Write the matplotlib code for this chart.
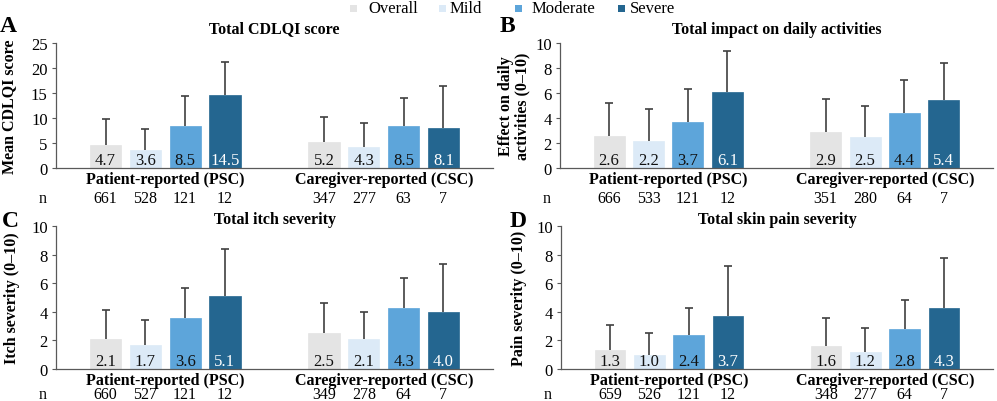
import matplotlib
matplotlib.use("Agg")
import matplotlib.pyplot as plt
import numpy as np

plt.rcParams['font.family'] = ['Liberation Serif', 'DejaVu Serif']
plt.rcParams['font.size'] = 12

groups = ["Patient-reported (PSC)", "Caregiver-reported (CSC)"]
severities = ["Overall", "Mild", "Moderate", "Severe"]
colors = ["#E4E4E4", "#DCEAF7", "#5DA5DA", "#246690"]
label_colors = ["#111111", "#111111", "#111111", "#FFFFFF"]

titles = ["Total CDLQI score", "Total impact on daily activities",
          "Total itch severity", "Total skin pain severity"]
ylabels = ["Mean CDLQI score", "Effect on daily\nactivities (0\u201310)",
           "Itch severity (0\u201310)", "Pain severity (0\u201310)"]
letters = ["A", "B", "C", "D"]

# means [PSC, CSC] by severity
mean_a = [[4.7, 3.6, 8.5, 14.5], [5.2, 4.3, 8.5, 8.1]]
sd_a = [[5.2, 4.2, 5.8, 6.7], [5.1, 4.7, 5.4, 8.2]]
n_a = [[661, 528, 121, 12], [347, 277, 63, 7]]

mean_b = [[2.6, 2.2, 3.7, 6.1], [2.9, 2.5, 4.4, 5.4]]
sd_b = [[2.6, 2.5, 2.65, 3.2], [2.65, 2.5, 2.6, 3.0]]
n_b = [[666, 533, 121, 12], [351, 280, 64, 7]]

mean_c = [[2.1, 1.7, 3.6, 5.1], [2.5, 2.1, 4.3, 4.0]]
sd_c = [[2.05, 1.75, 2.1, 3.3], [2.1, 1.9, 2.1, 3.35]]
n_c = [[660, 527, 121, 12], [349, 278, 64, 7]]

mean_d = [[1.3, 1.0, 2.4, 3.7], [1.6, 1.2, 2.8, 4.3]]
sd_d = [[1.75, 1.5, 1.9, 3.5], [1.95, 1.7, 2.05, 3.5]]
n_d = [[659, 526, 121, 12], [348, 277, 64, 7]]

ylims = [25, 10, 10, 10]
yticks = [np.arange(0, 26, 5), np.arange(0, 11, 2), np.arange(0, 11, 2), np.arange(0, 11, 2)]

W, H = 997, 402
fig = plt.figure(figsize=(W / 100, H / 100), dpi=100)

# axes rectangles in pixels: left, top, right, bottom
rects = [(56, 43.7, 493, 169.3), (560, 43.7, 993, 169.3),
         (56, 227.3, 493, 370), (561, 227.3, 993, 370)]
title_y = [29.5, 29.5, 220, 220]
letter_pos = [(8, 27), (507, 27), (10, 222), (518, 222)]
ylabel_right = [17, 530, 20, 527]
n_off = [30, 30, 25, 25]

datasets = [(mean_a, sd_a, n_a), (mean_b, sd_b, n_b), (mean_c, sd_c, n_c), (mean_d, sd_d, n_d)]

pitch = 0.182
bw = 0.143
offsets = (np.arange(4) - 1.5) * pitch
xg = np.arange(len(groups))

for i, (means, sds, ns) in enumerate(datasets):
    l, t, r, b = rects[i]
    ax = fig.add_axes([l / W, 1 - b / H, (r - l) / W, (b - t) / H])
    means = np.array(means)
    sds = np.array(sds)
    for k in range(4):
        xs = xg + offsets[k]
        ax.bar(xs, means[:, k], width=bw, color=colors[k], edgecolor=colors[k],
               linewidth=0.5, zorder=2)
        eb = ax.errorbar(xs, means[:, k], yerr=[np.zeros(len(xs)), sds[:, k]], fmt='none',
                         ecolor='#404040', elinewidth=1.2, capsize=3, capthick=1.2, zorder=3)
        eb[1][0].set_visible(False)  # hide the cap at the bar top
        for g in range(len(groups)):
            ax.annotate(f"{means[g, k]:.1f}", xy=(xs[g], 0), xytext=(0, 3),
                        textcoords='offset points', ha='center', va='baseline',
                        color=label_colors[k], fontsize=12, zorder=4)
            ax.annotate(str(ns[g][k]), xy=(xs[g], 0), xycoords=('data', 'axes fraction'),
                        xytext=(0, -n_off[i] * 0.72), textcoords='offset points',
                        ha='center', va='center', fontsize=11.5, annotation_clip=False)
    ax.annotate("n", xy=(0, 0), xycoords='axes fraction', xytext=(-13 * 0.72, -n_off[i] * 0.72),
                textcoords='offset points', ha='center', va='center', fontsize=11.5,
                annotation_clip=False)
    ax.set_xlim(-0.5, 1.5)
    ax.set_ylim(0, ylims[i])
    ax.set_yticks(yticks[i])
    ax.set_xticks(xg)
    ax.set_xticklabels(groups, fontweight='bold', fontsize=11.5)
    ax.tick_params(axis='x', length=0, pad=2)
    ax.tick_params(axis='y', length=3, width=0.8, color='#595959', pad=3, labelsize=12)
    for s in ['top', 'right']:
        ax.spines[s].set_visible(False)
    for s in ['left', 'bottom']:
        ax.spines[s].set_color('#595959')
        ax.spines[s].set_linewidth(0.9)
    ax.set_ylabel(ylabels[i], fontweight='bold', fontsize=11.5, linespacing=1.0)
    ax.yaxis.set_label_coords(-(l - ylabel_right[i]) / (r - l), 0.5)
    fig.text((l + r) / 2 / W, 1 - title_y[i] / H, titles[i], ha='center', va='center',
             fontweight='bold', fontsize=11.5)
    fig.text(letter_pos[i][0] / W, 1 - letter_pos[i][1] / H, letters[i], ha='center',
             va='center', fontweight='bold', fontsize=17)

# legend
sq_x = [350, 439, 515, 618]
txt_x = [368, 450, 532, 630]
for k in range(4):
    fig.patches.append(matplotlib.patches.Rectangle(
        (sq_x[k] / W, 1 - 12.5 / H), 7 / W, 7 / H, transform=fig.transFigure,
        facecolor=colors[k], edgecolor='none'))
    fig.text(txt_x[k] / W, 1 - 9 / H, severities[k], ha='left', va='center', fontsize=12)

fig.savefig("out.png", dpi=100)
